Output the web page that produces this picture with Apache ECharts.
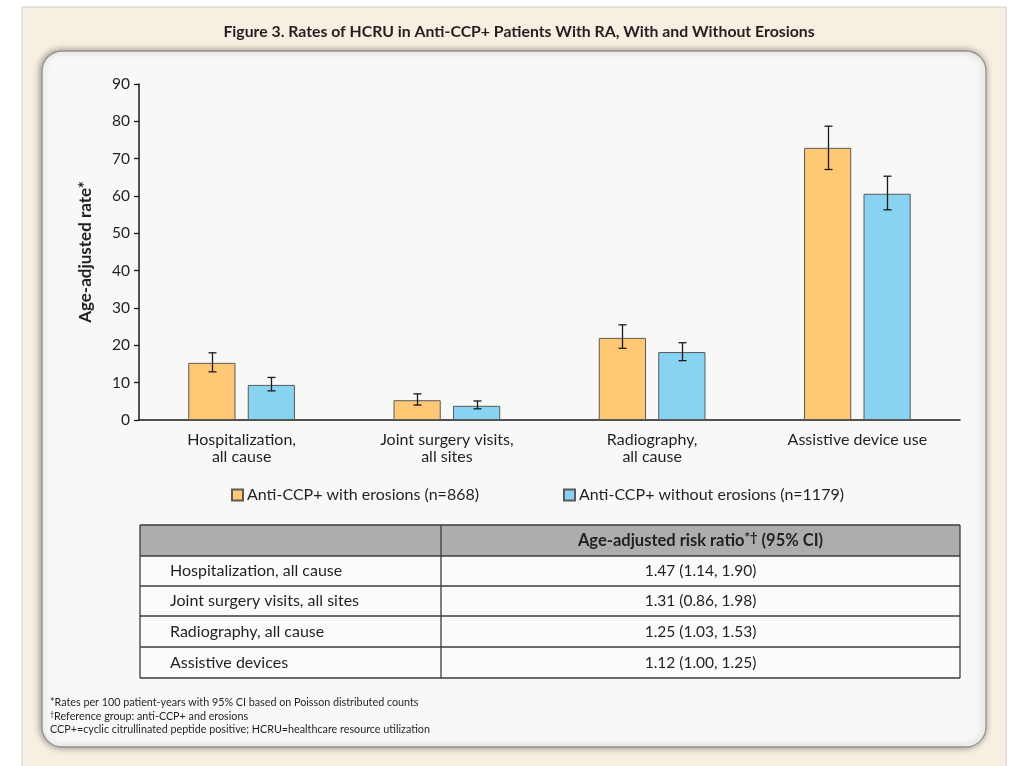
<!DOCTYPE html>
<html>
<head>
<meta charset="utf-8">
<style>
  html, body { margin: 0; padding: 0; background: #ffffff; }
  #chart { width: 1011px; height: 766px; }
</style>
<script src="https://cdn.jsdelivr.net/npm/echarts@6/dist/echarts.min.js"></script>
</head>
<body>
<div id="chart"></div>
<script>
// Categories and age-adjusted rates (per 100 patient-years) with 95% CI
const categories = ['Hospitalization,\nall cause', 'Joint surgery visits,\nall sites', 'Radiography,\nall cause', 'Assistive device use'];
const seriesNames = ['Anti-CCP+ with erosions (n=868)', 'Anti-CCP+ without erosions (n=1179)'];
const withErosions = [15.3, 5.3, 22.0, 72.9];
const withErosionsLow = [12.9, 4.0, 19.2, 67.1];
const withErosionsHigh = [18.0, 7.0, 25.5, 78.7];
const withoutErosions = [9.4, 3.8, 18.2, 60.6];
const withoutErosionsLow = [7.8, 3.0, 15.9, 56.3];
const withoutErosionsHigh = [11.4, 5.1, 20.7, 65.3];

// Risk ratio table
const tableHeader = ['Age-adjusted risk ratio', '*\u2020', ' (95% CI)'];
const tableRows = ['Hospitalization, all cause', 'Joint surgery visits, all sites', 'Radiography, all cause', 'Assistive devices'];
const riskRatios = ['1.47 (1.14, 1.90)', '1.31 (0.86, 1.98)', '1.25 (1.03, 1.53)', '1.12 (1.00, 1.25)'];

const titleText = 'Figure 3. Rates of HCRU in Anti-CCP+ Patients With RA, With and Without Erosions';
const yAxisTitle = 'Age-adjusted rate*';
// each footnote: [superscript mark, text]
const footnotes = [
  ['', '*Rates per 100 patient-years with 95% CI based on Poisson distributed counts'],
  ['\u2020', 'Reference group: anti-CCP+ and erosions'],
  ['', 'CCP+=cyclic citrullinated peptide positive; HCRU=healthcare resource utilization']
];

const FONT = 'Lato, "Open Sans", sans-serif';
const TEXT = '#231f20';
const ORANGE = '#ffc875';
const BLUE = '#88d3f2';
const BAR_W = 0.23;   // bar width as share of the category band
const BAR_GAP = 0.26; // gap between paired bars as share of bar width

function errorSeries(name, low, high, side) {
  return {
    type: 'custom',
    name: name,
    z: 5,
    data: categories.map((c, i) => [i, low[i], high[i]]),
    renderItem: function (params, api) {
      const i = api.value(0);
      const lo = api.coord([i, api.value(1)]);
      const hi = api.coord([i, api.value(2)]);
      const band = api.size([1, 0])[0];
      const bw = band * BAR_W;
      const off = side * (bw + bw * BAR_GAP) / 2;
      const x = Math.round(lo[0] + off) + 0.5;
      const cap = 4;
      const style = { stroke: '#1a1a1a', lineWidth: 1.3 };
      return {
        type: 'group',
        children: [
          { type: 'line', shape: { x1: x, y1: hi[1], x2: x, y2: lo[1] }, style: style },
          { type: 'line', shape: { x1: x - cap, y1: hi[1], x2: x + cap, y2: hi[1] }, style: style },
          { type: 'line', shape: { x1: x - cap, y1: lo[1], x2: x + cap, y2: lo[1] }, style: style }
        ]
      };
    }
  };
}

// Table drawn as graphic elements
const tblLeft = 140, tblMid = 441, tblRight = 960;
const rowYs = [525, 556, 586, 616, 647, 678];
const tableGraphics = [];
tableGraphics.push({
  type: 'rect', z: 10,
  shape: { x: tblLeft, y: rowYs[0], width: tblRight - tblLeft, height: rowYs[1] - rowYs[0] },
  style: { fill: '#adadad' }
});
tableGraphics.push({
  type: 'rect', z: 10,
  shape: { x: tblLeft, y: rowYs[1], width: tblRight - tblLeft, height: rowYs[5] - rowYs[1] },
  style: { fill: '#fbfbfb' }
});
rowYs.forEach(function (y) {
  tableGraphics.push({
    type: 'line', z: 11,
    shape: { x1: tblLeft, y1: y, x2: tblRight, y2: y },
    style: { stroke: '#3d3d3d', lineWidth: 1.3 }
  });
});
[tblLeft, tblMid, tblRight].forEach(function (x) {
  tableGraphics.push({
    type: 'line', z: 11,
    shape: { x1: x, y1: rowYs[0], x2: x, y2: rowYs[5] },
    style: { stroke: '#3d3d3d', lineWidth: 1.3 }
  });
});
tableGraphics.push({
  type: 'text', z: 12, x: (tblMid + tblRight) / 2, y: (rowYs[0] + rowYs[1]) / 2,
  style: {
    text: tableHeader[0] + '{sup|' + tableHeader[1] + '}' + tableHeader[2],
    font: 'bold 16.5px ' + FONT, fill: TEXT, align: 'center', verticalAlign: 'middle',
    rich: { sup: { fontFamily: FONT, fontWeight: 'bold', fontSize: 13, fill: TEXT, padding: [0, 0, 5, 0] } }
  }
});
tableRows.forEach(function (label, i) {
  const cy = (rowYs[i + 1] + rowYs[i + 2]) / 2;
  tableGraphics.push({
    type: 'text', z: 12, x: 170, y: cy,
    style: { text: label, font: '16px ' + FONT, fill: TEXT, align: 'left', verticalAlign: 'middle' }
  });
  tableGraphics.push({
    type: 'text', z: 12, x: (tblMid + tblRight) / 2, y: cy,
    style: { text: riskRatios[i], font: '15.5px ' + FONT, fill: TEXT, align: 'center', verticalAlign: 'middle' }
  });
});

const footGraphics = footnotes.map(function (f, i) {
  return {
    type: 'text', z: 12, x: 50, y: 703 + i * 13.5,
    style: {
      text: (f[0] ? '{sup|' + f[0] + '}' : '') + f[1],
      font: '10.75px ' + FONT, fill: TEXT, align: 'left', verticalAlign: 'middle',
      rich: { sup: { fontFamily: FONT, fontSize: 7, fill: TEXT, padding: [0, 0, 4, 0] } }
    }
  };
});

const chart = echarts.init(document.getElementById('chart'), null, { renderer: 'canvas' });

chart.setOption({
  animation: false,
  backgroundColor: '#ffffff',
  title: {
    text: titleText,
    left: 514, top: 19, textAlign: 'center',
    textStyle: { fontFamily: FONT, fontWeight: 'bold', fontSize: 15.8, color: TEXT }
  },
  graphic: [
    { type: 'rect', z: -20, shape: { x: 22, y: 7, width: 984, height: 770 }, style: { fill: '#f7efe1', stroke: '#d2cec8', lineWidth: 1 } },
    {
      type: 'rect', z: -10,
      shape: { x: 42, y: 51, width: 944, height: 696, r: 20 },
      style: { fill: '#f8f8f7', stroke: '#939393', lineWidth: 1.3, shadowBlur: 7, shadowColor: 'rgba(0,0,0,0.4)', shadowOffsetX: -1, shadowOffsetY: 0 }
    }
  ].concat(tableGraphics, footGraphics),
  legend: {
    data: seriesNames,
    left: 226, top: 482,
    itemWidth: 11, itemHeight: 11, itemGap: 84,
    icon: 'rect',
    textStyle: { fontFamily: FONT, fontSize: 16, color: TEXT, padding: [0, 0, 0, -1] }
  },
  grid: { left: 139, right: 51, top: 84, bottom: 346, containLabel: false },
  xAxis: {
    type: 'category',
    data: categories,
    axisLine: { lineStyle: { color: '#1a1a1a', width: 1.5 } },
    axisTick: { show: false },
    axisLabel: { fontFamily: FONT, fontSize: 16, color: TEXT, lineHeight: 17, margin: 11 }
  },
  yAxis: {
    type: 'value',
    min: 0, max: 90, interval: 10,
    name: yAxisTitle,
    nameLocation: 'middle', nameRotate: 90, nameGap: 45,
    nameTextStyle: { fontFamily: FONT, fontWeight: 'bold', fontSize: 17, color: TEXT },
    axisLine: { show: true, lineStyle: { color: '#1a1a1a', width: 1.5 } },
    axisTick: { show: true, length: 5, lineStyle: { color: '#1a1a1a', width: 1.3 } },
    splitLine: { show: false },
    axisLabel: { fontFamily: FONT, fontSize: 15.5, color: TEXT, margin: 9 }
  },
  series: [
    {
      type: 'bar', name: seriesNames[0], data: withErosions,
      barWidth: (BAR_W * 100) + '%', barGap: (BAR_GAP * 100) + '%',
      itemStyle: { color: ORANGE, borderColor: '#5a5a5a', borderWidth: 1 }
    },
    {
      type: 'bar', name: seriesNames[1], data: withoutErosions,
      barWidth: (BAR_W * 100) + '%', barGap: (BAR_GAP * 100) + '%',
      itemStyle: { color: BLUE, borderColor: '#5a5a5a', borderWidth: 1 }
    },
    errorSeries(seriesNames[0], withErosionsLow, withErosionsHigh, -1),
    errorSeries(seriesNames[1], withoutErosionsLow, withoutErosionsHigh, 1)
  ]
});
</script>
</body>
</html>
